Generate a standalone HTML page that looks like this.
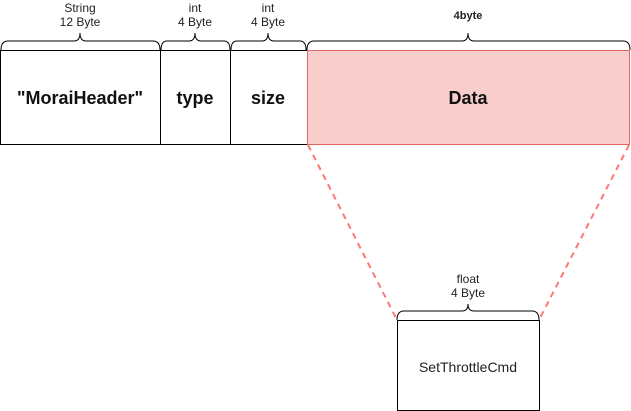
<!DOCTYPE html>
<html><head><style>body{margin:0;background:#fff}svg{display:block}</style></head><body>
<svg width="631" height="411" xmlns="http://www.w3.org/2000/svg" font-family="Liberation Sans, Arial, sans-serif">
<g fill="none" stroke="#000" stroke-width="1">
<path d="M1,50 Q1,41 8,41 L74,41 Q80,41 80,33 Q80,41 86,41 L153,41 Q160,41 160,50"/>
<path d="M161,50 Q161,41 167,41 L189,41 Q195,41 195,33 Q195,41 201,41 L224,41 Q230,41 230,50"/>
<path d="M231,50 Q231,41 237,41 L262,41 Q268,41 268,33 Q268,41 274,41 L300,41 Q306,41 306,50"/>
<path d="M307,50 Q307,41 314,41 L462,41 Q468,41 468,33 Q468,41 474,41 L623,41 Q630,41 630,50"/>
<path d="M397,320 Q397,311 404,311 L462,311 Q468,311 468,304 Q468,311 474,311 L532,311 Q539,311 539,320"/>
<rect x="0.5" y="50.5" width="160" height="94"/>
<rect x="160.5" y="50.5" width="70" height="94"/>
<rect x="230.5" y="50.5" width="77" height="94"/>
<rect x="397.5" y="320.5" width="142" height="90"/>
</g>
<rect x="307.5" y="50.5" width="322" height="94" fill="#f8cecc" stroke="#e06666"/>
<g stroke="#ff7777" stroke-width="2" stroke-dasharray="6,5">
<line x1="308" y1="145" x2="397" y2="320"/>
<line x1="629" y1="145" x2="539" y2="320"/>
</g>
<g font-size="12" fill="#222" text-anchor="middle">
<text x="80" y="12">String</text><text x="80" y="26">12 Byte</text>
<text x="195" y="12">int</text><text x="195" y="26">4 Byte</text>
<text x="268" y="12">int</text><text x="268" y="26">4 Byte</text>
<text x="468" y="19" font-weight="bold" font-size="11">4byte</text>
<text x="468" y="283">float</text><text x="468" y="297">4 Byte</text>
</g>
<g font-size="18" font-weight="bold" fill="#111" text-anchor="middle">
<text x="80" y="104">"MoraiHeader"</text>
<text x="195" y="104">type</text>
<text x="268" y="104">size</text>
<text x="468" y="104">Data</text>
</g>
<text x="468" y="372" font-size="14" fill="#222" text-anchor="middle">SetThrottleCmd</text>
</svg>
</body></html>
